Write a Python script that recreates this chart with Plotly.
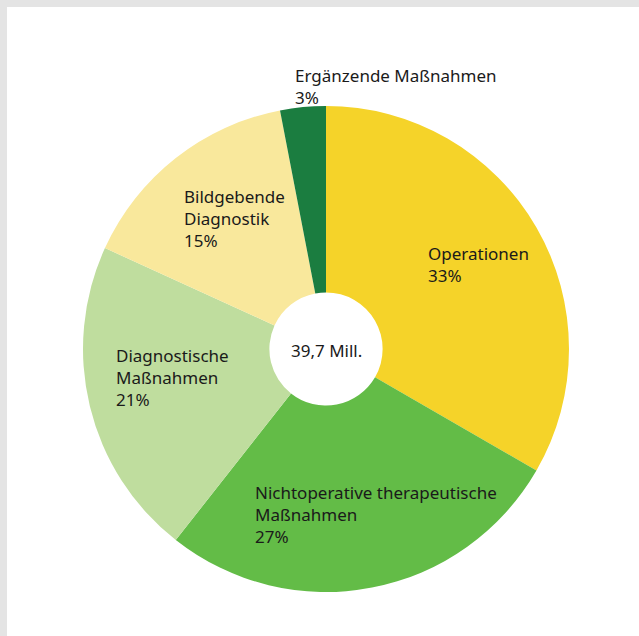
import plotly.graph_objects as go

labels = ["Operationen", "Nichtoperative therapeutische Maßnahmen", "Diagnostische Maßnahmen",
          "Bildgebende Diagnostik", "Ergänzende Maßnahmen"]
values = [33, 27, 21, 15, 3]
colors = ["#F5D329", "#63BC47", "#BFDD9E", "#F9E89C", "#1B7D40"]
label_text = ["Operationen<br>33%", "Nichtoperative therapeutische<br>Maßnahmen<br>27%",
              "Diagnostische<br>Maßnahmen<br>21%", "Bildgebende<br>Diagnostik<br>15%",
              "Ergänzende Maßnahmen<br>3%"]
center_text = "39,7 Mill."

W, H = 639, 636
ML, MT = 7, 7
pw, ph = W - ML, H - MT

def px(x, y):
    return (x - ML) / pw, 1 - (y - MT) / ph

cx, cy, r = 326, 349, 243
x0, y0 = px(cx - r, cy + r)
x1, y1 = px(cx + r, cy - r)

fig = go.Figure()
fig.add_trace(go.Pie(labels=labels, values=values, sort=False, direction="clockwise",
                     rotation=0, hole=0.233, textinfo="none", hoverinfo="label+percent",
                     marker=dict(colors=colors, line=dict(width=0)),
                     domain=dict(x=[x0, x1], y=[y0, y1]), showlegend=False))

# label positions (top-left corner, pixels)
label_pos = [(426, 240), (253, 479), (114, 342), (182, 183), (293, 62)]
font = dict(family="Noto Sans", size=17, color="#1a1a1a")
for txt, (lx, ly) in zip(label_text, label_pos):
    ax, ay = px(lx, ly)
    fig.add_annotation(x=ax, y=ay, xref="paper", yref="paper", text=txt, showarrow=False,
                       xanchor="left", yanchor="top", align="left", font=font)

ax, ay = px(cx, cy + 1)
fig.add_annotation(x=ax, y=ay, xref="paper", yref="paper", text=center_text, showarrow=False,
                   xanchor="center", yanchor="middle", font=font)

fig.add_shape(type="rect", xref="paper", yref="paper", x0=0, x1=1.05, y0=-0.05, y1=1,
              fillcolor="white", line=dict(width=0), layer="below")

fig.update_layout(width=W, height=H, margin=dict(l=ML, r=0, t=MT, b=0),
                  paper_bgcolor="#E4E4E4", plot_bgcolor="white")

fig.write_html("out.html", config=dict(displayModeBar=False),
               post_script="document.body.style.margin='0';document.body.style.overflow='hidden';")
